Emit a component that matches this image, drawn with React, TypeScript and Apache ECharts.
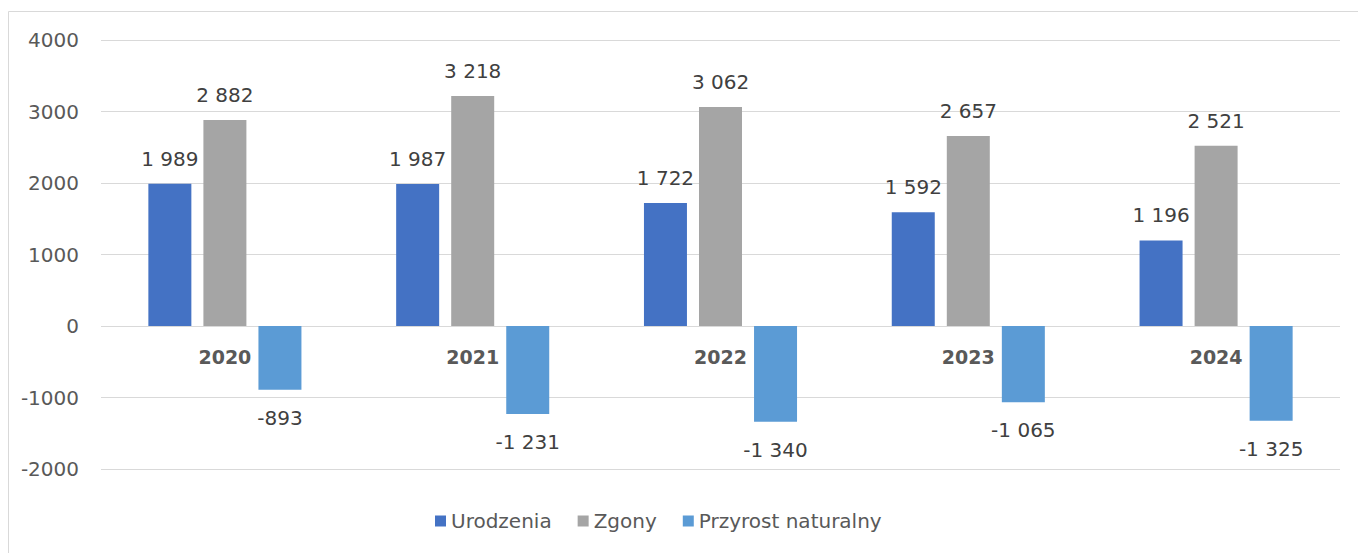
import React, { useEffect, useRef } from "react";
import * as echarts from "echarts";

const categories = ["2020", "2021", "2022", "2023", "2024"];
const urodzenia = [1989, 1987, 1722, 1592, 1196];
const zgony = [2882, 3218, 3062, 2657, 2521];
const przyrost = [-893, -1231, -1340, -1065, -1325];
const seriesNames = ["Urodzenia", "Zgony", "Przyrost naturalny"];
const colors = ["#4472C4", "#A5A5A5", "#5B9BD5"];

const FONT = "'DejaVu Sans', sans-serif";

function fmt(v: number): string {
  const s = Math.abs(v).toString().replace(/\B(?=(\d{3})+(?!\d))/g, " ");
  return (v < 0 ? "-" : "") + s;
}

export default function App() {
  const ref = useRef<HTMLDivElement>(null);
  useEffect(() => {
    if (!ref.current) return;
    const chart = echarts.init(ref.current, null, { renderer: "svg" });
    const labelBase = {
      show: true,
      fontFamily: FONT,
      fontSize: 20,
      color: "#404040",
      formatter: (p: any) => fmt(p.value),
    };
    chart.setOption({
      animation: false,
      backgroundColor: "#ffffff",
      graphic: [
        {
          type: "rect",
          shape: { x: 8.5, y: 11.5, width: 1400, height: 600 },
          style: { fill: "none", stroke: "#D9D9D9", lineWidth: 1 },
          silent: true,
        },
      ],
      grid: { left: 101, right: 18, top: 40, bottom: 84, containLabel: false },
      legend: {
        data: seriesNames,
        top: 506,
        left: 430,
        itemWidth: 11,
        itemHeight: 11,
        itemGap: 26,
        icon: "rect",
        textStyle: { fontFamily: FONT, fontSize: 20, color: "#595959" },
      },
      xAxis: {
        type: "category",
        data: categories,
        axisLine: { onZero: false, show: false },
        axisTick: { show: false },
        axisLabel: {
          fontFamily: FONT,
          fontSize: 19,
          fontWeight: "bold",
          color: "#595959",
          margin: -122,
        },
      },
      yAxis: {
        type: "value",
        min: -2000,
        max: 4000,
        interval: 1000,
        axisLine: { show: false },
        axisTick: { show: false },
        splitLine: { lineStyle: { color: "#D9D9D9", width: 1 } },
        axisLabel: {
          fontFamily: FONT,
          fontSize: 20,
          color: "#595959",
          margin: 22,
          formatter: (v: number) => String(v),
        },
      },
      series: [
        {
          name: seriesNames[0],
          type: "bar",
          data: urodzenia,
          barWidth: 43,
          barGap: "28%",
          itemStyle: { color: colors[0] },
          label: { ...labelBase, position: "top", distance: 15 },
        },
        {
          name: seriesNames[1],
          type: "bar",
          data: zgony,
          barWidth: 43,
          barGap: "28%",
          itemStyle: { color: colors[1] },
          label: { ...labelBase, position: "top", distance: 15 },
        },
        {
          name: seriesNames[2],
          type: "bar",
          data: przyrost,
          barWidth: 43,
          barGap: "28%",
          itemStyle: { color: colors[2] },
          label: { ...labelBase, position: "bottom", distance: 18 },
        },
      ],
    });
    return () => chart.dispose();
  }, []);
  return (
    <div
      ref={ref}
      style={{ position: "fixed", left: 0, top: 0, width: 1358, height: 553 }}
    />
  );
}
